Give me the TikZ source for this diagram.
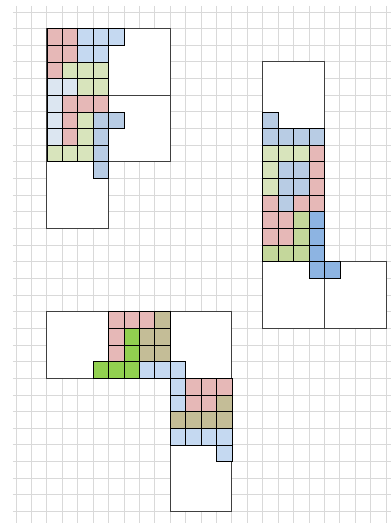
\documentclass[tikz,border=0pt]{standalone}
\usepackage{xcolor}
\usepackage{tikz}
\definecolor{gridgray}{RGB}{217, 217, 217}
\definecolor{edgegray}{RGB}{64, 64, 64}
\definecolor{cellpink}{RGB}{230, 184, 183}
\definecolor{celllblue}{RGB}{197, 217, 241}
\definecolor{cellpblue}{RGB}{220, 230, 241}
\definecolor{cellmblue}{RGB}{184, 204, 228}
\definecolor{cellbblue}{RGB}{141, 180, 226}
\definecolor{celllgreen}{RGB}{216, 228, 188}
\definecolor{celldgreen}{RGB}{196, 215, 155}
\definecolor{cellbgreen}{RGB}{146, 208, 80}
\definecolor{celltan}{RGB}{196, 189, 151}

\begin{document}
\begin{tikzpicture}[x=15.42pt,y=-16.65pt]
    \useasboundingbox (-1.04,-0.72) rectangle (24.32,30.69);
    % sheet grid
    \foreach \k in {0,...,24} \draw[gridgray,line width=0.9pt] (\k,-0.36) -- (\k,30.69);
    \foreach \k in {0,...,30} \draw[gridgray,line width=0.9pt] (-0.2,\k) -- (24.32,\k);
    % 4x4 blocks of the three shapes
    \foreach \c/\r in {2/1,6/1,2/5,6/5,2/9, 16/3,16/7,16/11,16/15,20/15, 2/18,6/18,10/18,10/22,10/26}
        \filldraw[fill=white,draw=edgegray,line width=0.9pt] (\c,\r) rectangle ++(4,4);
    % first shape
    \foreach \c/\r/\col in {2/1/cellpink,3/1/cellpink,4/1/celllblue,5/1/celllblue,6/1/celllblue,
        2/2/cellpink,3/2/cellpink,4/2/celllblue,5/2/celllblue,
        2/3/cellpink,3/3/celllgreen,4/3/celllgreen,5/3/celllgreen,
        2/4/cellpblue,3/4/cellpblue,4/4/celllgreen,5/4/celllgreen,
        2/5/cellpblue,3/5/cellpink,4/5/cellpink,5/5/cellpink,
        2/6/cellpblue,3/6/cellpink,4/6/celllgreen,5/6/cellmblue,6/6/cellmblue,
        2/7/cellpblue,3/7/cellpink,4/7/celllgreen,5/7/cellmblue,
        2/8/celllgreen,3/8/celllgreen,4/8/celllgreen,5/8/cellmblue,
        5/9/cellmblue}
        \filldraw[fill=\col,draw=black,line width=0.7pt] (\c,\r) rectangle ++(1,1);
    % second shape
    \foreach \c/\r/\col in {16/6/cellmblue,
        16/7/cellmblue,17/7/cellmblue,18/7/cellmblue,19/7/cellmblue,
        16/8/celllgreen,17/8/celllgreen,18/8/celllgreen,19/8/cellpink,
        16/9/celllgreen,17/9/cellmblue,18/9/cellmblue,19/9/cellpink,
        16/10/celllgreen,17/10/cellmblue,18/10/cellmblue,19/10/cellpink,
        16/11/cellpink,17/11/cellmblue,18/11/cellpink,19/11/cellpink,
        16/12/cellpink,17/12/cellpink,18/12/celldgreen,19/12/cellbblue,
        16/13/cellpink,17/13/cellpink,18/13/celldgreen,19/13/cellbblue,
        16/14/celldgreen,17/14/celldgreen,18/14/celldgreen,19/14/cellbblue,
        19/15/cellbblue,20/15/cellbblue}
        \filldraw[fill=\col,draw=black,line width=0.7pt] (\c,\r) rectangle ++(1,1);
    % third shape
    \foreach \c/\r/\col in {6/18/cellpink,7/18/cellpink,8/18/cellpink,9/18/celltan,
        6/19/cellpink,7/19/cellbgreen,8/19/celltan,9/19/celltan,
        6/20/cellpink,7/20/cellbgreen,8/20/celltan,9/20/celltan,
        5/21/cellbgreen,6/21/cellbgreen,7/21/cellbgreen,8/21/celllblue,9/21/celllblue,10/21/celllblue,
        10/22/celllblue,11/22/cellpink,12/22/cellpink,13/22/cellpink,
        10/23/celllblue,11/23/cellpink,12/23/cellpink,13/23/celltan,
        10/24/celltan,11/24/celltan,12/24/celltan,13/24/celltan,
        10/25/celllblue,11/25/celllblue,12/25/celllblue,13/25/celllblue,
        13/26/celllblue}
        \filldraw[fill=\col,draw=black,line width=0.7pt] (\c,\r) rectangle ++(1,1);
\end{tikzpicture}
\end{document}
